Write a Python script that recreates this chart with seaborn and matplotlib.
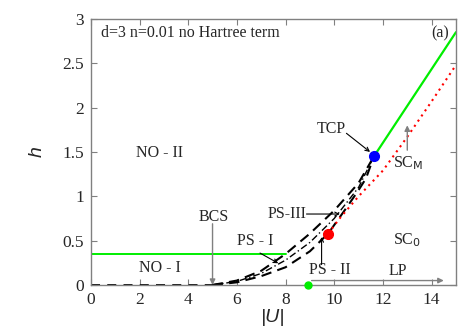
import matplotlib
matplotlib.use("Agg")
import matplotlib.pyplot as plt
import numpy as np
import pandas as pd
import seaborn as sns

# Phase boundaries
normal_u = [0, 5]
normal_h = [0, 0]

upper_u = [5, 6, 7, 8, 9, 10, 11, 11.63]
upper_h = [0, 0.05, 0.16, 0.35, 0.58, 0.84, 1.15, 1.45]

middle_u = [5, 6, 7, 8, 9, 10, 11, 11.63]
middle_h = [0, 0.04, 0.13, 0.28, 0.48, 0.75, 1.1, 1.45]

lower_u = [5, 6, 7, 8, 9, 9.75, 10.5, 11, 11.3, 11.63]
lower_h = [0, 0.03, 0.1, 0.2, 0.38, 0.58, 0.87, 1.07, 1.2, 1.45]

green_low_u = [0, 8]
green_low_h = [0.35, 0.35]

green_high_u = [11.63, 15]
green_high_h = [1.45, 2.85]

red_u = [9.75, 10.25, 11, 12, 13, 14, 15]
red_h = [0.58, 0.76, 1.0, 1.29, 1.67, 2.07, 2.48]

tcp = (11.63, 1.45)
red_pt = (9.75, 0.58)
lp_pt = (8.93, 0.0)

sns.set_style("ticks")
plt.rcParams["font.family"] = ["Liberation Serif", "DejaVu Serif"]

fig = plt.figure(figsize=(4.73, 3.31), dpi=100)
ax = fig.add_axes([0.192, 0.139, 0.772, 0.804])

sns.lineplot(x=normal_u, y=normal_h, ax=ax, color="black", lw=1.3, linestyle=(0, (5, 4)))
sns.lineplot(x=upper_u, y=upper_h, ax=ax, color="black", lw=1.5, linestyle=(0, (5, 3)))
sns.lineplot(x=middle_u, y=middle_h, ax=ax, color="black", lw=1.0, linestyle=(0, (5, 2, 1, 2)))
sns.lineplot(x=lower_u, y=lower_h, ax=ax, color="black", lw=1.5, linestyle=(0, (5, 3)))
sns.lineplot(x=green_low_u, y=green_low_h, ax=ax, color="#00ee00", lw=1.4)
sns.lineplot(x=green_high_u, y=green_high_h, ax=ax, color="#00ee00", lw=1.6)
sns.lineplot(x=red_u, y=red_h, ax=ax, color="red", lw=1.5, linestyle=(0, (1, 2)))

ax.plot(*tcp, "o", color="blue", ms=7, zorder=5)
ax.plot(*red_pt, "o", color="red", ms=7, zorder=5)
ax.plot(*lp_pt, "o", color="#00ee00", ms=5, zorder=5, clip_on=False)

ax.set_xlim(0, 15)
ax.set_ylim(0, 3)
ax.set_xticks(np.arange(0, 15, 2))
ax.set_yticks([0, 0.5, 1, 1.5, 2, 2.5, 3])
ax.set_yticklabels(["0", "0.5", "1", "1.5", "2", "2.5", "3"])
ax.tick_params(direction="in", length=4, top=True, right=True, labelsize=12.5,
               color="#808080", pad=5)
for s in ax.spines.values():
    s.set_color("#808080")
    s.set_linewidth(1.0)

ax.set_xlabel("|U|", fontsize=14, style="italic", family="Liberation Sans", labelpad=1)
ax.set_ylabel("h", fontsize=14, style="italic", family="Liberation Sans", labelpad=12)

fs = 11.5
ax.text(0.4, 2.84, "d=3 n=0.01 no Hartree term", fontsize=fs, va="center", ha="left")
ax.text(14.33, 2.84, "(a)", fontsize=fs, va="center", ha="center")
ax.text(2.84, 1.49, "NO - II", fontsize=fs, va="center", ha="center")
ax.text(2.84, 0.19, "NO - I", fontsize=fs, va="center", ha="center")
ax.text(12.97, 0.51, "SC$_0$", fontsize=fs, va="center", ha="center")
ax.text(5.05, 0.77, "BCS", fontsize=fs, va="center", ha="center")
ax.text(6.74, 0.5, "PS - I", fontsize=fs, va="center", ha="center")
ax.text(8.04, 0.8, "PS-III", fontsize=fs, va="center", ha="center")
ax.text(9.82, 0.17, "PS - II", fontsize=fs, va="center", ha="center")
ax.text(9.89, 1.76, "TCP", fontsize=fs, va="center", ha="center")
ax.text(13.05, 1.37, "SC$_\\mathrm{M}$", fontsize=fs, va="center", ha="center")
ax.text(12.6, 0.16, "LP", fontsize=fs, va="center", ha="center")

gray_arrow = dict(arrowstyle="-|>", color="#808080", lw=1.0, mutation_scale=8,
                  shrinkA=0, shrinkB=0)
black_arrow = dict(arrowstyle="->", color="black", lw=0.8, mutation_scale=7,
                   shrinkA=0, shrinkB=0)

# (head, tail, style)
arrows = [
    ((5, 0.0), (5, 0.69), gray_arrow),
    ((7.7, 0.245), (6.95, 0.36), black_arrow),
    ((10.23, 0.8), (8.86, 0.8), black_arrow),
    ((9.48, 0.54), (9.48, 0.23), black_arrow),
    ((11.47, 1.5), (10.5, 1.71), black_arrow),
    ((13.0, 1.8), (13.0, 1.52), gray_arrow),
    ((14.5, 0.05), (9.07, 0.05), gray_arrow),
]
for head, tail, style in arrows:
    ax.annotate("", xy=head, xytext=tail, arrowprops=style)

fig.savefig("out.png", dpi=100)
